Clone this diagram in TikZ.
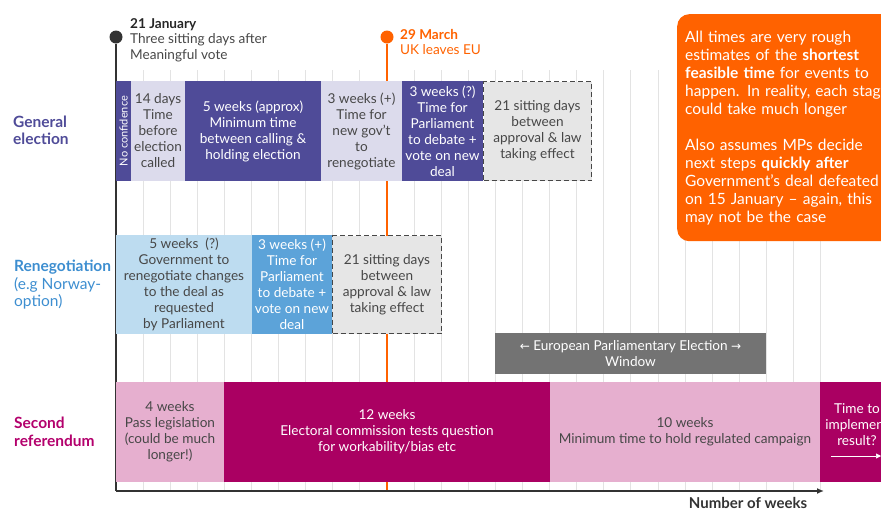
\documentclass[tikz,border=0pt]{standalone}
\usepackage{fontspec}
\setmainfont{Lato}
\newfontfamily\arrowfont{DejaVu Sans}
\usepackage{xcolor}
\usetikzlibrary{arrows.meta}

\definecolor{gedark}{HTML}{4F4B98}
\definecolor{gelight}{HTML}{DCDBEC}
\definecolor{rnlight}{HTML}{BDDCF0}
\definecolor{rnmid}{HTML}{5CA3D9}
\definecolor{rnlabel}{HTML}{3D8ED0}
\definecolor{srdark}{HTML}{AA0062}
\definecolor{srlight}{HTML}{E6AFCF}
\definecolor{srlabel}{HTML}{B3006C}
\definecolor{brexit}{HTML}{FF6200}
\definecolor{eugray}{HTML}{737373}
\definecolor{waitgray}{HTML}{E6E6E6}
\definecolor{txtgray}{HTML}{474747}
\definecolor{gridgray}{HTML}{E3E3E3}

\begin{document}
\begin{tikzpicture}[
    x=1pt,y=-1pt,>=Latex,
    stage/.style={rectangle,inner sep=0pt,align=center,text=txtgray,
      font=\fontsize{13.6}{16}\selectfont},
    darkstage/.style={stage,text=white},
    waitstage/.style={stage,fill=waitgray,draw=txtgray,line width=1.5pt,
      dash pattern=on 5pt off 3pt},
    rowlabel/.style={anchor=west,inner sep=0pt,align=left,
      font=\fontsize{15.5}{17.5}\selectfont},
    datelabel/.style={anchor=west,inner sep=0pt,align=left,
      font=\fontsize{13.6}{15.5}\selectfont},
    gridline/.style={gridgray,line width=1pt},
    axisline/.style={draw=black!80,line width=1.5pt}]
  \useasboundingbox (0,0) rectangle (881,512);
  % ---- week grid (27.1 units per week, axis at 116) ----
  \foreach \w in {1,...,26}
    \draw[gridline] ({116+27.1*\w},70) -- ({116+27.1*\w},491);
  % ---- key dates ----
  \node[circle,fill=black!80,minimum size=13,inner sep=0pt] (jan) at (116,37) {};
  \node[circle,fill=brexit,minimum size=13,inner sep=0pt] (mar) at (387,37) {};
  \coordinate (origin) at (116,491);
  \coordinate (marend) at (387,491);
  \coordinate (axisend) at (824,491);
  \draw[brexit,line width=1.5pt] (mar) -- (marend);
  \draw[axisline] (jan) -- (origin);
  \draw[axisline,-{Latex[length=7pt,width=6pt]}] (origin) -- (axisend);
  \node[datelabel,text=txtgray] (janlbl) at (130,40)
    {\textbf{\color{black!85}21 January}\\Three sitting days after\\Meaningful vote};
  \node[datelabel,text=brexit] (marlbl) at (400,42)
    {\textbf{29 March}\\UK leaves EU};
  % ---- general election ----
  \node[darkstage,fill=gedark,rotate=90,minimum width=100,minimum height=15,
    font=\fontsize{11}{12}\selectfont] (ge1) at (123.5,131) {No confidence};
  \node[stage,fill=gelight,minimum width=54,minimum height=100] (ge2) at (158,131)
    {14 days\\Time\\before\\election\\called};
  \node[darkstage,fill=gedark,minimum width=136,minimum height=100] (ge3) at (253,131)
    {5 weeks (approx)\\Minimum time\\between calling \&\\holding election};
  \node[stage,fill=gelight,minimum width=81,minimum height=100] (ge4) at (361.5,131)
    {3 weeks (+)\\Time for\\new gov't\\to\\renegotiate};
  \node[darkstage,fill=gedark,minimum width=81,minimum height=100] (ge5) at (442.5,131)
    {3 weeks (?)\\Time for\\Parliament\\to debate +\\vote on new\\deal};
  \node[waitstage,minimum width=108,minimum height=99] (ge6) at (537.5,131)
    {21 sitting days\\between\\approval \& law\\taking effect};
  % ---- renegotiation ----
  \node[stage,fill=rnlight,minimum width=136,minimum height=99] (rn1) at (184,284.5)
    {5 weeks~~(?)\\Government to\\renegotiate changes\\to the deal as\\requested\\by Parliament};
  \node[darkstage,fill=rnmid,minimum width=80,minimum height=99] (rn2) at (292,284.5)
    {3 weeks (+)\\Time for\\Parliament\\to debate +\\vote on new\\deal};
  \node[waitstage,minimum width=109,minimum height=98] (rn3) at (387,284.5)
    {21 sitting days\\between\\approval \& law\\taking effect};
  % ---- EU election window ----
  \node[darkstage,fill=eugray,minimum width=271,minimum height=41] (euwin) at (630.5,353.5)
    {{\arrowfont\fontsize{12}{16}\selectfont←} European Parliamentary Election
     {\arrowfont\fontsize{12}{16}\selectfont→}\\Window};
  % ---- second referendum ----
  \node[stage,fill=srlight,minimum width=108,minimum height=100] (sr1) at (170,432)
    {4 weeks\\Pass legislation\\(could be much\\longer!)};
  \node[darkstage,fill=srdark,minimum width=326,minimum height=100] (sr2) at (387,432)
    {12 weeks\\Electoral commission tests question\\for workability/bias etc};
  \node[stage,fill=srlight,minimum width=270,minimum height=100] (sr3) at (685,432)
    {10 weeks\\Minimum time to hold regulated campaign};
  \node[darkstage,fill=srdark,minimum width=74,minimum height=100] (sr4) at (857,432) {};
  \node[darkstage] (sr4txt) at (857,425) {Time to\\implement\\result?};
  \coordinate (implstart) at (831,456);
  \coordinate (implend) at (881,456);
  \draw[white,line width=0.6pt,-{Triangle[length=5pt,width=5pt]}] (implstart) -- (implend);
  % ---- row labels ----
  \node[rowlabel,text=gedark] (gelbl) at (13,130.5) {\textbf{General}\\\textbf{election}};
  \node[rowlabel,text=rnlabel] (rnlbl) at (14,285)
    {\textbf{Renegotiation}\\(e.g Norway-\\option)};
  \node[rowlabel,text=srlabel] (srlbl) at (14,432) {\textbf{Second}\\\textbf{referendum}};
  \node[font=\fontsize{15}{17}\selectfont\bfseries,text=black!80,inner sep=0pt]
    (xlbl) at (748,503) {Number of weeks};
  % ---- caveat box ----
  \node[fill=brexit,rounded corners=12pt,anchor=north west,inner xsep=8pt,
    inner ysep=0pt,text width=215pt,minimum height=227,align=left,text=white,
    font=\fontsize{15.5}{18}\selectfont] (note) at (677,14)
    {All times are very rough\\estimates of the \textbf{shortest}\\\textbf{feasible time} for events to\\
     happen. In reality, each stage\\could take much longer\\[18pt]
     Also assumes MPs decide\\next steps \textbf{quickly after}\\Government's deal defeated\\
     on 15 January -- again, this\\may not be the case};
\end{tikzpicture}
\end{document}
